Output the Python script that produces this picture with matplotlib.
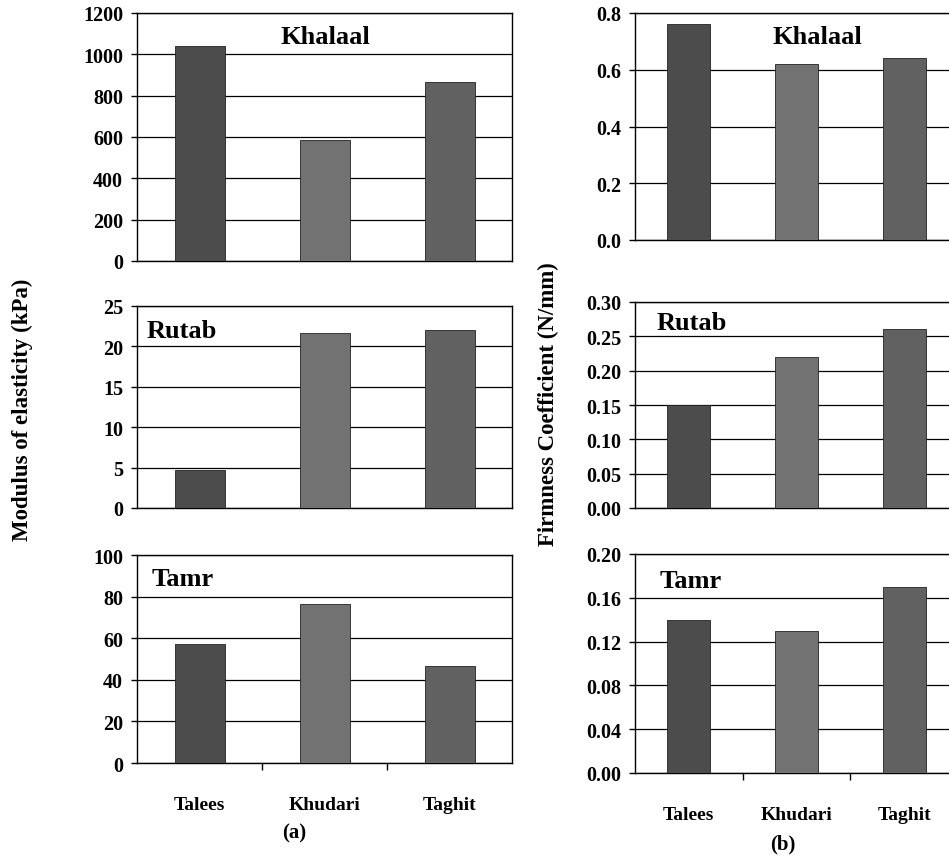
"""Modulus of elasticity and firmness coefficient of date fruit at three stages."""
import numpy as np
import matplotlib
matplotlib.use("Agg")
import matplotlib.pyplot as plt

plt.rcParams["font.family"] = ["Liberation Serif", "DejaVu Serif"]
plt.rcParams["font.weight"] = "bold"

cultivars = ["Talees", "Khudari", "Taghit"]
stages = ["Khalaal", "Rutab", "Tamr"]

modulus_khalaal = [1040, 585, 865]
modulus_rutab = [4.7, 21.6, 22.0]
modulus_tamr = [57, 76.5, 46.5]

firm_khalaal = [0.76, 0.62, 0.64]
firm_rutab = [0.15, 0.22, 0.26]
firm_tamr = [0.14, 0.13, 0.17]

modulus_ticks = [[0, 200, 400, 600, 800, 1000, 1200], [0, 5, 10, 15, 20, 25], [0, 20, 40, 60, 80, 100]]
modulus_fmt = ["{:.0f}", "{:.0f}", "{:.0f}"]
firm_ticks = [[0, 0.2, 0.4, 0.6, 0.8], [0, 0.05, 0.10, 0.15, 0.20, 0.25, 0.30], [0, 0.04, 0.08, 0.12, 0.16, 0.20]]
firm_fmt = ["{:.1f}", "{:.2f}", "{:.2f}"]

bar_colors = ["#4c4c4c", "#727272", "#616161"]

W, H = 949, 862
fig = plt.figure(figsize=(W / 100, H / 100), dpi=100)


def px_axes(left, top, right, bottom):
    return fig.add_axes([left / W, 1 - bottom / H, (right - left) / W, (bottom - top) / H])


# pixel boxes (left, top, right, bottom)
left_boxes = [(137, 14, 512, 262), (137, 307, 512, 509), (137, 556, 512, 764)]
right_boxes = [(635, 14, 958, 241), (635, 303, 958, 509), (635, 555, 958, 774)]
# stage label anchor in pixels (x, y, ha)
left_labels = [(325, 38, "center"), (147, 332, "left"), (152, 579, "left")]
right_labels = [(817, 38, "center"), (657, 323, "left"), (660, 582, "left")]

columns = [
    (left_boxes, left_labels, [modulus_khalaal, modulus_rutab, modulus_tamr], modulus_ticks, modulus_fmt),
    (right_boxes, right_labels, [firm_khalaal, firm_rutab, firm_tamr], firm_ticks, firm_fmt),
]

x = np.arange(len(cultivars))
for col, (boxes, labels, data, ticks, fmts) in enumerate(columns):
    for row, (box, lab, vals, tk, fm) in enumerate(zip(boxes, labels, data, ticks, fmts)):
        ax = px_axes(*box)
        ax.bar(x, vals, width=0.4, color=bar_colors, edgecolor="#222222", linewidth=0.6, zorder=3)
        ax.set_xlim(-0.5, 2.5)
        ax.set_ylim(tk[0], tk[-1])
        ax.set_yticks(tk)
        ax.set_yticklabels([fm.format(t) for t in tk])
        ax.yaxis.grid(True, color="black", linewidth=0.9, zorder=0)
        for s in ax.spines.values():
            s.set_linewidth(1.0)
        ax.tick_params(axis="y", labelsize=14.5, length=4, width=1, pad=6)
        if row == 2:
            ax.set_xticks(x)
            ax.set_xticklabels(cultivars, fontsize=14)
            ax.set_xticks([0.5, 1.5], minor=True)
            ax.tick_params(axis="x", which="major", length=0, pad=24)
            ax.tick_params(axis="x", which="minor", length=5, width=1, direction="out")
        else:
            ax.set_xticks([])
        lx, ly, ha = lab
        fig.text(lx / W, 1 - ly / H, stages[row], ha=ha, va="center",
                 fontsize=19, fontweight="bold")

fig.text(22 / W, 1 - 410 / H, "Modulus of elasticity (kPa)", rotation=90,
         ha="center", va="center", fontsize=16.5, fontweight="bold")
fig.text(548 / W, 1 - 404 / H, "Firmness Coefficient (N/mm)", rotation=90,
         ha="center", va="center", fontsize=16.5, fontweight="bold")
fig.text(294 / W, 1 - 833 / H, "(a)", ha="center", va="center", fontsize=15, fontweight="bold")
fig.text(783 / W, 1 - 844 / H, "(b)", ha="center", va="center", fontsize=15, fontweight="bold")

fig.savefig("out.png", dpi=100)
plt.close(fig)
